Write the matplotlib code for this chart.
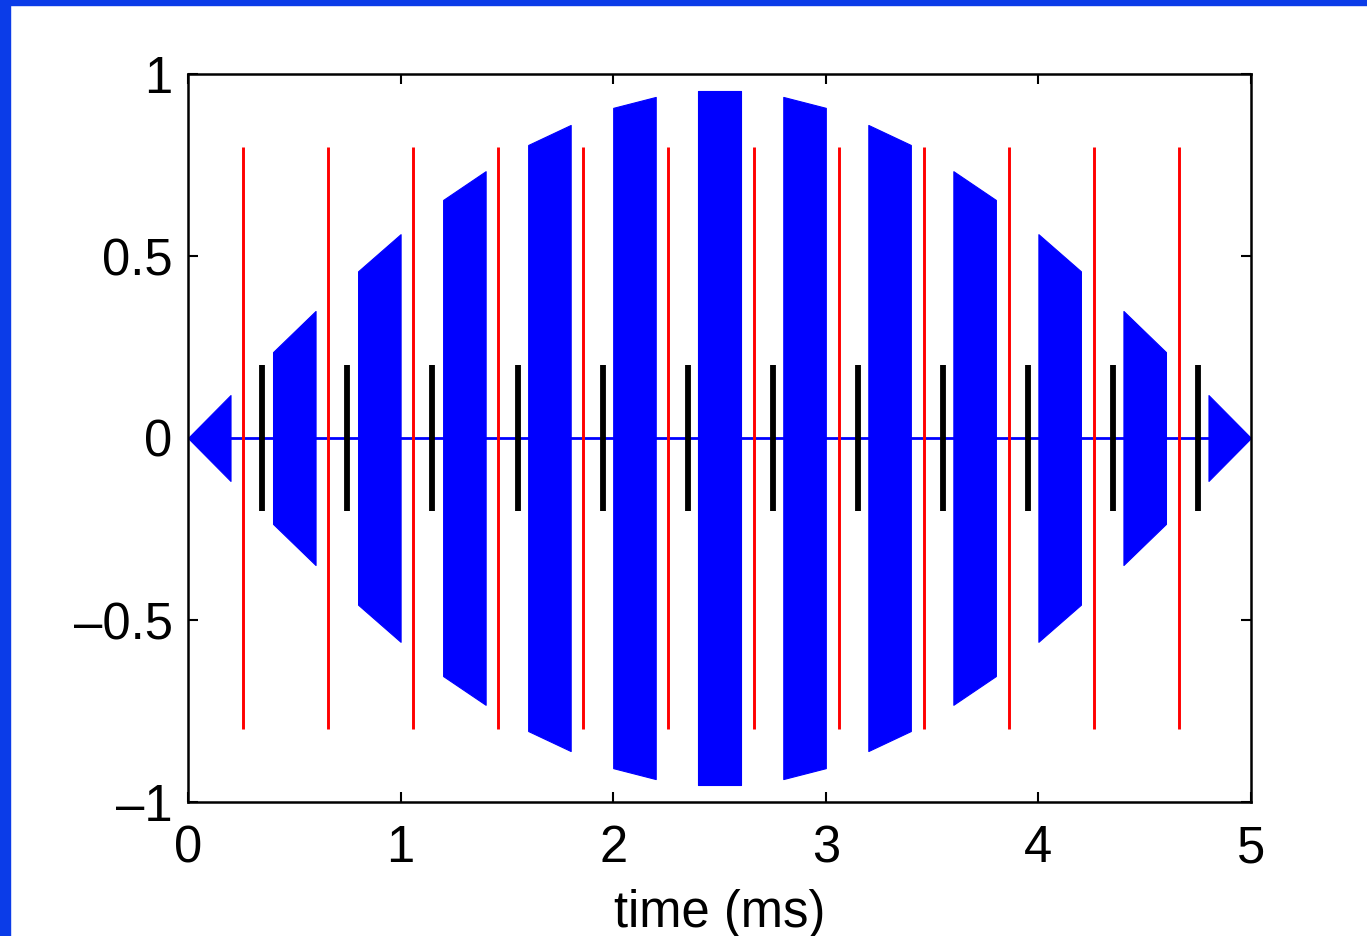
import matplotlib.pyplot as plt
from matplotlib.patches import Rectangle
from matplotlib.ticker import FixedLocator, FixedFormatter

''' Data read off the picture '''
# tone bursts: start time (ms), envelope amplitude at start and end of each burst
burst_start = [0.0, 0.4, 0.8, 1.2, 1.6, 2.0, 2.4, 2.8, 3.2, 3.6, 4.0, 4.4, 4.8]
burst_len = 0.2
amp_start = [0.0, 0.236, 0.458, 0.654, 0.805, 0.907, 0.953, 0.937, 0.860, 0.733, 0.560, 0.349, 0.118]
amp_end = [0.118, 0.349, 0.560, 0.733, 0.860, 0.937, 0.953, 0.907, 0.805, 0.654, 0.458, 0.236, 0.0]

# red markers (+-0.8) and black markers (+-0.2)
red_t = [0.26, 0.66, 1.06, 1.46, 1.86, 2.26, 2.66, 3.06, 3.46, 3.86, 4.26, 4.66]
red_h = 0.8
black_t = [0.35, 0.75, 1.15, 1.55, 1.95, 2.35, 2.75, 3.15, 3.55, 3.95, 4.35, 4.75]
black_h = 0.2

x_ticks = [0, 1, 2, 3, 4, 5]
y_ticks = [-1, -0.5, 0, 0.5, 1]
y_ticklabels = ['\u20131', '\u20130.5', '0', '0.5', '1']

''' Plotting '''
plt.rcParams['font.family'] = ['Liberation Sans', 'DejaVu Sans']

fig = plt.figure(figsize=(13.67, 9.36), dpi=100)
fig.patch.set_facecolor('white')
# blue slide border on top and left
fig.patches.append(Rectangle((0, 1 - 5/936), 1, 5/936, transform=fig.transFigure,
                             color='#0b3ce8', zorder=0))
fig.patches.append(Rectangle((0, 0), 10/1367, 1, transform=fig.transFigure,
                             color='#0b3ce8', zorder=0))

ax = fig.add_axes([188/1367, 1 - 802/936, (1251 - 188)/1367, (802 - 74)/936])

# zero line of the signal
ax.plot([0, 5], [0, 0], color='#0000ff', lw=2.0, zorder=2)
for t0, a0, a1 in zip(burst_start, amp_start, amp_end):
    xs = [t0, t0 + burst_len]
    ax.fill_between(xs, [-a0, -a1], [a0, a1], color='#0000ff', lw=0.8,
                    edgecolor='#0000ff', zorder=2)

ax.vlines(red_t, -red_h, red_h, color='#ff0000', lw=2.1, zorder=3)
ax.vlines(black_t, -black_h, black_h, color='black', lw=4.2, zorder=4)

ax.set_xlim(0, 5)
ax.set_ylim(-1, 1)
ax.xaxis.set_major_locator(FixedLocator(x_ticks))
ax.yaxis.set_major_locator(FixedLocator(y_ticks))
ax.yaxis.set_major_formatter(FixedFormatter(y_ticklabels))
ax.tick_params(direction='in', length=7, width=1.5, top=True, right=True,
               labelsize=36.5)
ax.tick_params(axis='y', pad=11)
ax.tick_params(axis='x', pad=16)
for s in ax.spines.values():
    s.set_linewidth(1.8)
ax.set_xlabel('time (ms)', fontsize=36.5, labelpad=11)

plt.savefig('out.png', dpi=100, facecolor='white')
